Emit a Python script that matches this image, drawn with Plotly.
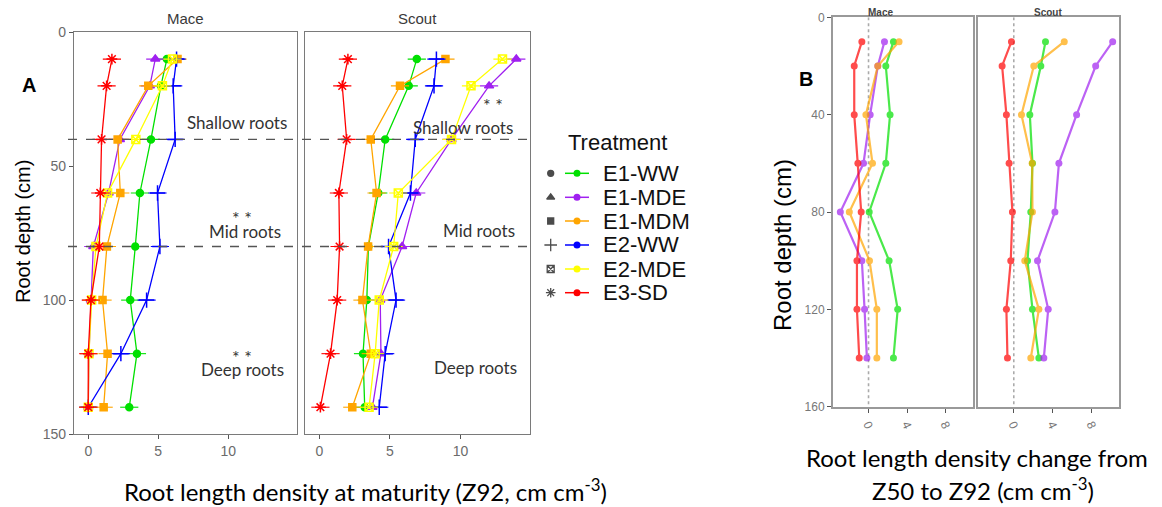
import plotly.graph_objects as go

# page body adds an 8 px margin; lay out in screen pixels and compensate
OFF = 8
W, H = 1162 - OFF, 507 - OFF

# ---------------- data ----------------
depths = [10, 20, 40, 60, 80, 100, 120, 140]
treatments = ["E1-WW", "E1-MDE", "E1-MDM", "E2-WW", "E2-MDE", "E3-SD"]

# Panel A: root length density at maturity (Z92)
mace_a_e1ww = [5.62, 5.19, 4.48, 3.69, 3.36, 3.00, 3.48, 2.93]
mace_a_e1mde = [4.79, 4.40, 2.26, 1.45, 0.36, 0.19, 0.05, 0.00]
mace_a_e1mdm = [6.38, 4.29, 2.10, 2.29, 1.33, 1.02, 1.38, 1.10]
mace_a_e2ww = [6.31, 6.07, 6.21, 4.95, 5.12, 4.17, 2.33, 0.00]
mace_a_e2mde = [6.02, 5.30, 3.40, 1.38, 0.55, 0.24, 0.05, 0.00]
mace_a_e3sd = [1.69, 1.31, 0.95, 0.86, 0.79, 0.19, 0.00, 0.00]

scout_a_e1ww = [6.90, 6.33, 4.66, 4.17, 3.47, 3.36, 3.09, 3.21]
scout_a_e1mde = [13.95, 12.02, 9.36, 6.86, 5.86, 4.31, 4.36, 3.76]
scout_a_e1mdm = [8.93, 5.71, 3.64, 4.05, 3.45, 3.05, 3.64, 2.33]
scout_a_e2ww = [8.29, 8.12, 6.79, 6.45, 4.90, 5.43, 4.66, 4.24]
scout_a_e2mde = [12.97, 10.74, 9.36, 5.59, 5.26, 4.24, 3.95, 3.52]
scout_a_e3sd = [2.02, 1.62, 1.93, 1.38, 1.43, 1.26, 0.79, 0.07]

# Panel B: change from Z50 to Z92
treatments_b = ["E1-WW", "E1-MDE", "E1-MDM", "E3-SD"]
mace_b_e1ww = [2.58, 1.79, 2.23, 1.79, 0.07, 2.13, 3.02, 2.58]
mace_b_e1mde = [1.65, 0.96, 0.17, -0.52, -2.92, -0.69, -0.41, -0.17]
mace_b_e1mdm = [3.16, 0.96, -0.27, 0.41, -1.99, 0.10, 0.86, 0.86]
mace_b_e3sd = [-0.69, -1.48, -1.48, -1.10, -0.76, -1.20, -1.20, -0.96]

scout_b_e1ww = [3.26, 2.78, 1.65, 1.92, 1.75, 1.41, 1.92, 2.58]
scout_b_e1mde = [10.17, 8.42, 6.46, 4.64, 4.23, 2.44, 3.54, 3.09]
scout_b_e1mdm = [5.19, 2.06, 0.79, 1.89, 1.92, 1.13, 2.58, 1.75]
scout_b_e3sd = [-0.24, -1.20, -0.76, -0.48, -0.14, -0.31, -0.76, -0.65]

a_xticks = [0, 5, 10]
a_yticks = [0, 50, 100, 150]
b_xticks = [0, 4, 8]
b_yticks = [0, 40, 80, 120, 160]
zone_bounds = [40, 80]

# ---------------- styles ----------------
colors = {"E1-WW": "#00E000", "E1-MDE": "#A020F0", "E1-MDM": "#FFA500",
          "E2-WW": "#0000FF", "E2-MDE": "#FFFF00", "E3-SD": "#FF0000"}
symbols = {"E1-WW": "circle", "E1-MDE": "triangle-up", "E1-MDM": "square",
           "E2-WW": "cross-thin-open", "E2-MDE": "square-x-open", "E3-SD": "asterisk-open"}
msize = {"E1-WW": 7, "E1-MDE": 8, "E1-MDM": 7, "E2-WW": 11, "E2-MDE": 8, "E3-SD": 9}

mace_a = dict(zip(treatments, [mace_a_e1ww, mace_a_e1mde, mace_a_e1mdm, mace_a_e2ww, mace_a_e2mde, mace_a_e3sd]))
scout_a = dict(zip(treatments, [scout_a_e1ww, scout_a_e1mde, scout_a_e1mdm, scout_a_e2ww, scout_a_e2mde, scout_a_e3sd]))
mace_b = dict(zip(treatments_b, [mace_b_e1ww, mace_b_e1mde, mace_b_e1mdm, mace_b_e3sd]))
scout_b = dict(zip(treatments_b, [scout_b_e1ww, scout_b_e1mde, scout_b_e1mdm, scout_b_e3sd]))


def px(x):
    return (x - OFF) / W


def py(y):
    return 1 - (y - OFF) / H


fig = go.Figure()

# Panel A traces
for t in treatments:
    for vals, xa, ya in [(mace_a[t], "x", "y"), (scout_a[t], "x2", "y2")]:
        fig.add_trace(go.Scatter(
            x=vals, y=depths, xaxis=xa, yaxis=ya, mode="lines+markers",
            line=dict(color=colors[t], width=1.3),
            marker=dict(symbol=symbols[t], size=msize[t], color=colors[t],
                        line=dict(color=colors[t], width=1.5)),
            showlegend=False, name=t))
        fig.add_trace(go.Scatter(
            x=vals, y=depths, xaxis=xa, yaxis=ya, mode="markers",
            marker=dict(symbol="line-ew-open", size=13, color=colors[t],
                        line=dict(color=colors[t], width=1.1)),
            showlegend=False, hoverinfo="skip"))

# Panel B traces
for t in treatments_b:
    for vals, xa, ya in [(mace_b[t], "x3", "y3"), (scout_b[t], "x4", "y4")]:
        fig.add_trace(go.Scatter(
            x=vals, y=depths, xaxis=xa, yaxis=ya, mode="lines+markers",
            line=dict(color=colors[t], width=2.2), opacity=0.7,
            marker=dict(symbol="circle", size=7, color=colors[t]),
            showlegend=False, name=t))

# Legend keys on a hidden pixel-space axis
leg_rows = [173.3, 197.3, 221.0, 245.0, 269.0, 292.7]
fig.add_trace(go.Scatter(
    x=[550.7] * len(treatments), y=leg_rows, xaxis="x5", yaxis="y5", mode="markers",
    marker=dict(symbol=[symbols[t] for t in treatments],
                size=[6, 7, 6, 9, 7, 8], color="black",
                line=dict(color="black", width=1.3)),
    showlegend=False, hoverinfo="skip"))
fig.add_trace(go.Scatter(
    x=[577] * len(treatments), y=leg_rows, xaxis="x5", yaxis="y5", mode="markers",
    marker=dict(symbol="circle", size=7, color=[colors[t] for t in treatments]),
    showlegend=False, hoverinfo="skip"))

shapes = []
for t, yy in zip(treatments, leg_rows):
    shapes.append(dict(type="line", xref="x5", yref="y5", x0=565, x1=589, y0=yy, y1=yy,
                       line=dict(color=colors[t], width=1.5), layer="below"))

# dashed zone boundaries in A
for d in zone_bounds:
    shapes.append(dict(type="line", xref="paper", yref="y", x0=px(68), x1=px(531), y0=d, y1=d,
                       line=dict(color="#555555", width=1.4, dash="dash")))
# zero lines in B
for xr, yr in [("x3", "y3"), ("x4", "y4")]:
    shapes.append(dict(type="line", xref=xr, yref=yr, x0=0, x1=0, y0=0, y1=160,
                       line=dict(color="#AAAAAA", width=1.6, dash="dot"), layer="below"))

fig.update_layout(shapes=shapes)

# ---------------- axes ----------------
ax_common = dict(showgrid=False, zeroline=False, showline=True, mirror=True,
                 ticks="outside", ticklen=4, tickcolor="#555555", automargin=False)
a_ydom = [py(434), py(32.3)]
b_ydom = [py(406.7), py(17.3)]
a_xrange = [-1.02, 14.92]
b_xrange = [-3.68, 10.82]
tickfontA = dict(family="Liberation Sans, Arial", size=14, color="#6b6b6b")
tickfontB = dict(family="Liberation Sans, Arial", size=12, color="#777777")

fig.update_layout(
    xaxis=dict(domain=[px(74), px(297)], range=a_xrange, tickvals=a_xticks, anchor="y",
               linecolor="#7a7a7a", linewidth=1.2, tickfont=tickfontA, **ax_common),
    yaxis=dict(domain=a_ydom, range=[150, 0], tickvals=a_yticks, anchor="x",
               linecolor="#7a7a7a", linewidth=1.2, tickfont=tickfontA, **ax_common),
    xaxis2=dict(domain=[px(305), px(530)], range=a_xrange, tickvals=a_xticks, anchor="y2",
                linecolor="#7a7a7a", linewidth=1.2, tickfont=tickfontA, **ax_common),
    yaxis2=dict(domain=a_ydom, range=[150, 0], tickvals=a_yticks, anchor="x2",
                showticklabels=False, linecolor="#7a7a7a", linewidth=1.2,
                **{**ax_common, "ticks": ""}),
    xaxis3=dict(domain=[px(833), px(973)], range=b_xrange, tickvals=b_xticks, anchor="y3",
                tickangle=65, linecolor="#999999", linewidth=2, tickfont=tickfontB, **ax_common),
    yaxis3=dict(domain=b_ydom, range=[160, 0], tickvals=b_yticks, anchor="x3",
                linecolor="#999999", linewidth=2, tickfont=tickfontB, **ax_common),
    xaxis4=dict(domain=[px(978), px(1119)], range=b_xrange, tickvals=b_xticks, anchor="y4",
                tickangle=65, linecolor="#999999", linewidth=2, tickfont=tickfontB, **ax_common),
    yaxis4=dict(domain=b_ydom, range=[160, 0], tickvals=b_yticks, anchor="x4",
                showticklabels=False, linecolor="#999999", linewidth=2,
                **{**ax_common, "ticks": ""}),
    xaxis5=dict(domain=[0, 1], range=[OFF, OFF + W], visible=False, anchor="y5",
                fixedrange=True, automargin=False),
    yaxis5=dict(domain=[0, 1], range=[OFF + H, OFF], visible=False, anchor="x5",
                fixedrange=True, automargin=False),
)

# ---------------- text ----------------
ann = []


def text(x, y, s, size, color="#222222", family="Liberation Sans, Arial", angle=0,
         xanchor="center", bold=False):
    if bold:
        s = "<b>" + s + "</b>"
    ann.append(dict(x=px(x), y=py(y), xref="paper", yref="paper", text=s, showarrow=False,
                    xanchor=xanchor, yanchor="middle", textangle=angle,
                    font=dict(size=size, color=color, family=family)))


text(185.5, 18, "Mace", 15, "#3a3a3a")
text(417.5, 18, "Scout", 15, "#3a3a3a")
text(880, 12, "Mace", 10, "#444444", bold=True)
text(1048, 12, "Scout", 10, "#444444", bold=True)
text(29, 85, "A", 20, "black", bold=True)
text(806, 79, "B", 20, "black", bold=True)
text(23, 232, "Root depth (cm)", 20, "black", angle=-90)
text(783, 245, "Root depth (cm)", 24, "black", angle=-90)

lato = "Lato, Open Sans, sans-serif"
text(237.5, 122, "Shallow roots", 17, "#333333", lato)
text(245, 231, "Mid roots", 17, "#333333", lato)
text(242, 369, "Deep roots", 17, "#333333", lato)
text(463, 127, "Shallow roots", 17, "#333333", lato)
text(479, 230, "Mid roots", 17, "#333333", lato)
text(475, 367, "Deep roots", 17, "#333333", lato)
text(242, 218, "* *", 18, "#333333", lato)
text(242, 357, "* *", 18, "#333333", lato)
text(493, 105, "* *", 18, "#333333", lato)

text(365, 490, "Root length density at maturity (Z92, cm cm<sup>-3</sup>)", 24, "black", lato)
text(977, 457, "Root length density change from", 24, "black", lato)
text(983, 489, "Z50 to Z92 (cm cm<sup>-3</sup>)", 24, "black", lato)

text(566, 143, "Treatment", 22, "#111111", xanchor="left")
for t, yy in zip(treatments, leg_rows):
    text(601, yy, t, 22, "#111111", xanchor="left")

fig.update_layout(annotations=ann, width=W, height=H,
                  margin=dict(l=0, r=0, t=0, b=0, pad=0),
                  paper_bgcolor="white", plot_bgcolor="rgba(0,0,0,0)", showlegend=False)

fig.write_html("out.html")
